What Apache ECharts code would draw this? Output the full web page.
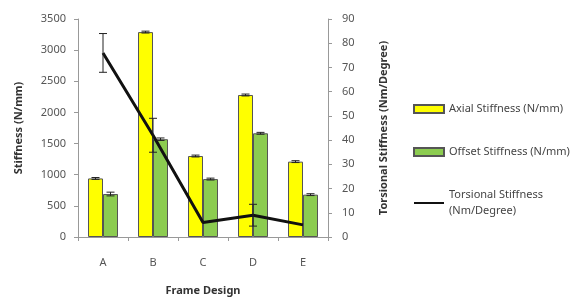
<!DOCTYPE html>
<html>
<head>
<meta charset="utf-8">
<script src="https://cdn.jsdelivr.net/npm/echarts@6/dist/echarts.min.js"></script>
<style>
  html, body { margin: 0; padding: 0; background: #fff; }
  #chart { width: 580px; height: 299px; }
</style>
</head>
<body>
<div id="chart"></div>
<script>
// values
var designs = ['A', 'B', 'C', 'D', 'E'];
var axial = [940, 3290, 1300, 2280, 1210];
var axial_err = [15, 15, 15, 15, 15];
var offset = [690, 1570, 930, 1665, 680];
var offset_err = [30, 20, 15, 15, 15];
var torsional = [76, 42, 6, 9, 5];
var torsional_err = [8, 7, 0, 4.5, 0];

var font = 'Noto Sans';

function errorSeries(values, errs, axisIdx, offsetPx, name) {
    var data = values.map(function (v, i) { return [i, v - errs[i], v + errs[i]]; });
    return {
        type: 'custom',
        name: name,
        yAxisIndex: axisIdx,
        z: 10,
        silent: true,
        renderItem: function (params, api) {
            if (api.value(2) === api.value(1)) return;
            var lo = api.coord([api.value(0), api.value(1)]);
            var hi = api.coord([api.value(0), api.value(2)]);
            var x = lo[0] + offsetPx;
            var w = 4;
            var style = { stroke: '#222', lineWidth: 1 };
            return {
                type: 'group',
                children: [
                    { type: 'line', shape: { x1: x, y1: lo[1], x2: x, y2: hi[1] }, style: style },
                    { type: 'line', shape: { x1: x - w, y1: lo[1], x2: x + w, y2: lo[1] }, style: style },
                    { type: 'line', shape: { x1: x - w, y1: hi[1], x2: x + w, y2: hi[1] }, style: style }
                ]
            };
        },
        data: data
    };
}

var chart = echarts.init(document.getElementById('chart'));

chart.setOption({
    animation: false,
    grid: { left: 78, right: 252, top: 19, bottom: 62, outerBoundsMode: 'none', containLabel: false },
    legend: {
        orient: 'vertical',
        left: 408,
        top: 96,
        itemGap: 27,
        itemWidth: 30,
        itemHeight: 8,
        textStyle: { fontFamily: font, fontSize: 11, color: '#444', lineHeight: 16 },
        data: [
            { name: 'Axial Stiffness (N/mm)', icon: 'rect' },
            { name: 'Offset Stiffness (N/mm)', icon: 'rect' },
            { name: 'Torsional Stiffness\n(Nm/Degree)', itemStyle: { opacity: 0 } }
        ]
    },
    xAxis: {
        type: 'category',
        data: designs,
        name: 'Frame Design',
        nameLocation: 'middle',
        nameGap: 48,
        nameTextStyle: { fontFamily: font, fontSize: 11, fontWeight: 'bold', color: '#333' },
        axisLine: { lineStyle: { color: '#999' } },
        axisTick: { show: true, alignWithLabel: false, length: 4, lineStyle: { color: '#999' } },
        axisLabel: { fontFamily: font, fontSize: 11, color: '#555', margin: 20 }
    },
    yAxis: [{
        type: 'value',
        min: 0,
        max: 3500,
        interval: 500,
        name: 'Stiffness (N/mm)',
        nameLocation: 'middle',
        nameGap: 54,
        nameTextStyle: { fontFamily: font, fontSize: 11, fontWeight: 'bold', color: '#333' },
        axisLine: { show: true, lineStyle: { color: '#999' } },
        axisTick: { show: true, length: 4, lineStyle: { color: '#999' } },
        axisLabel: { fontFamily: font, fontSize: 11, color: '#555', margin: 12, formatter: function (v) { return String(v); } },
        splitLine: { show: false }
    }, {
        type: 'value',
        min: 0,
        max: 90,
        interval: 10,
        position: 'right',
        name: 'Torsional Stiffness (Nm/Degree)',
        nameLocation: 'middle',
        nameGap: 50,
        nameRotate: 90,
        nameTextStyle: { fontFamily: font, fontSize: 11, fontWeight: 'bold', color: '#333' },
        axisLine: { show: true, lineStyle: { color: '#999' } },
        axisTick: { show: true, length: 4, lineStyle: { color: '#999' } },
        axisLabel: { fontFamily: font, fontSize: 11, color: '#555', margin: 14 },
        splitLine: { show: false }
    }],
    series: [{
        name: 'Axial Stiffness (N/mm)',
        type: 'bar',
        data: axial,
        barWidth: 15,
        barGap: 0,
        itemStyle: { color: '#ffff00', borderColor: '#555', borderWidth: 1 }
    }, {
        name: 'Offset Stiffness (N/mm)',
        type: 'bar',
        data: offset,
        barWidth: 15,
        barGap: 0,
        itemStyle: { color: '#8ccc50', borderColor: '#555', borderWidth: 1 }
    }, {
        name: 'Torsional Stiffness\n(Nm/Degree)',
        type: 'line',
        yAxisIndex: 1,
        data: torsional,
        symbol: 'none',
        z: 5,
        lineStyle: { color: '#111', width: 3 },
        itemStyle: { color: '#111' }
    },
    errorSeries(axial, axial_err, 0, -7.5, 'axialErr'),
    errorSeries(offset, offset_err, 0, 7.5, 'offsetErr'),
    errorSeries(torsional, torsional_err, 1, 0, 'torsionErr')
    ]
});
</script>
</body>
</html>
